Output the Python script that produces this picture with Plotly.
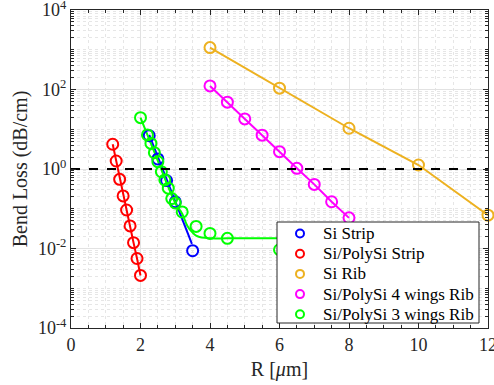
import plotly.graph_objects as go

# ---------------- data ----------------
si_strip_R = [2.25, 2.5, 2.75, 3.0, 3.5]
si_strip_L = [6.9, 1.79, 0.51, 0.15, 0.0088]
si_strip_fit_R = [2.25, 3.48]
si_strip_fit_L = [7.2, 0.013]

sipoly_strip_R = [1.2, 1.3, 1.4, 1.5, 1.6, 1.7, 1.8, 1.9, 2.0]
sipoly_strip_L = [4.2, 1.59, 0.55, 0.21, 0.093, 0.037, 0.014, 0.0056, 0.0021]

si_rib_R = [4, 6, 8, 10, 12]
si_rib_L = [1135, 108, 10.6, 1.26, 0.069]

wing4_R = [4.0, 4.5, 5.0, 5.5, 6.0, 6.5, 7.0, 7.5, 8.0]
wing4_L = [123, 48, 18.2, 7.1, 2.73, 1.04, 0.41, 0.15, 0.059]

wing3_R = [2.0, 2.2, 2.3, 2.4, 2.5, 2.6, 2.7, 2.8, 2.9, 3.0, 3.2, 3.6, 4.0, 4.5, 6.0]
wing3_L = [19.6, 7.2, 4.4, 2.57, 1.53, 0.855, 0.53, 0.33, 0.18, 0.14, 0.083, 0.036, 0.024, 0.018, 0.0093]
wing3_fit_R = [2.0, 2.5, 3.0, 3.2, 3.35, 3.5, 3.6, 3.7, 3.85, 4.0, 4.5, 5.0, 5.5, 6.0]
wing3_fit_L = [19.6, 1.6, 0.14, 0.075, 0.037, 0.025, 0.021, 0.0195, 0.0185, 0.018, 0.018, 0.018, 0.018, 0.018]

threshold_R = [0, 12]
threshold_L = [1, 1]

y_tickvals = [1e-4, 1e-2, 1, 1e2, 1e4]
y_ticktext = ["10<sup>-4</sup>", "10<sup>-2</sup>", "10<sup>0</sup>", "10<sup>2</sup>", "10<sup>4</sup>"]
x_tickvals = [0, 2, 4, 6, 8, 10, 12]

names = ["Si Strip", "Si/PolySi Strip", "Si Rib", "Si/PolySi 4 wings Rib", "Si/PolySi 3 wings Rib"]
colors = ["#0000FF", "#FF0000", "#EDB120", "#FF00FF", "#00FF00"]

# minor y tick positions (2..9 per decade plus odd decades)
y_minor = []
for d in range(-4, 4):
    for k in range(1, 10):
        v = k * 10 ** d
        if v not in y_tickvals:
            y_minor.append(v)

FONT = "Liberation Serif, Times New Roman, serif"

W, H = 494, 385
ML, MR, MT, MB = 71, 6, 10, 57
PW, PH = W - ML - MR, H - MT - MB


def px_x(p):
    return (p - ML) / PW


def px_y(p):
    return (H - MB - p) / PH


fig = go.Figure()

marker_sets = [
    (si_strip_R, si_strip_L),
    (sipoly_strip_R, sipoly_strip_L),
    (si_rib_R, si_rib_L),
    (wing4_R, wing4_L),
    (wing3_R, wing3_L),
]
line_sets = [
    (si_strip_fit_R, si_strip_fit_L),
    (sipoly_strip_R, sipoly_strip_L),
    (si_rib_R, si_rib_L),
    (wing4_R, wing4_L),
    (wing3_fit_R, wing3_fit_L),
]

for (xr, yl), c in zip(line_sets, colors):
    fig.add_trace(go.Scatter(x=xr, y=yl, mode="lines", line=dict(color=c, width=2),
                             showlegend=False, hoverinfo="skip",
                             line_shape="spline" if len(xr) > 9 else "linear"))

for (xr, yl), c, n in zip(marker_sets, colors, names):
    fig.add_trace(go.Scatter(x=xr, y=yl, mode="markers", name=n, showlegend=False,
                             cliponaxis=False,
                             marker=dict(symbol="circle-open", size=11, color=c,
                                         line=dict(width=2, color=c))))

fig.add_trace(go.Scatter(x=threshold_R, y=threshold_L, mode="lines",
                         line=dict(color="black", width=2, dash="dash"),
                         showlegend=False, hoverinfo="skip"))

# ---------------- manual legend ----------------
shapes = [dict(type="rect", xref="paper", yref="paper",
               x0=px_x(277), x1=px_x(479), y0=px_y(323), y1=px_y(222),
               fillcolor="white", line=dict(color="#262626", width=1), layer="above")]
annotations = []
row_y = [233.5, 253.7, 273.9, 294.1, 314.3]
for n, c, ry in zip(names, colors, row_y):
    shapes.append(dict(type="circle", xref="paper", yref="paper",
                       xsizemode="pixel", ysizemode="pixel",
                       xanchor=px_x(300), yanchor=px_y(ry),
                       x0=-4, x1=4, y0=-4, y1=4,
                       line=dict(color=c, width=2), fillcolor="rgba(0,0,0,0)", layer="above"))
    annotations.append(dict(text=n, xref="paper", yref="paper",
                            x=px_x(321), y=px_y(ry), xanchor="left", yanchor="middle",
                            showarrow=False,
                            font=dict(family=FONT, size=17, color="black")))

fig.update_layout(
    width=W, height=H,
    margin=dict(l=ML, r=MR, t=MT, b=MB, autoexpand=False),
    paper_bgcolor="white", plot_bgcolor="white",
    font=dict(family=FONT, size=18, color="#262626"),
    showlegend=False,
    shapes=shapes,
    annotations=annotations,
)

fig.update_xaxes(
    range=[0, 12], tickvals=x_tickvals, ticks="inside", ticklen=5,
    tickcolor="#262626", showline=True, linecolor="#262626", linewidth=1,
    mirror="ticks", showgrid=True, gridcolor="#e2e2e2", gridwidth=1, zeroline=False,
    tickfont=dict(family=FONT, size=18, color="#262626"), ticklabeloverflow="allow",
    automargin=False,
    title=dict(text="R [<i>μ</i>m]", font=dict(family=FONT, size=20, color="#262626"), standoff=8),
    minor=dict(dtick=0.5, ticks="inside", ticklen=3, tickcolor="#262626",
               showgrid=True, gridcolor="#e6e6e6", griddash="dot", gridwidth=1),
)
fig.update_yaxes(
    type="log", range=[-4, 4], tickvals=y_tickvals, ticktext=y_ticktext,
    ticks="inside", ticklen=5, tickcolor="#262626", showline=True,
    linecolor="#262626", linewidth=1, mirror="ticks", showgrid=True,
    gridcolor="#e2e2e2", gridwidth=1, zeroline=False,
    tickfont=dict(family=FONT, size=18, color="#262626"), ticklabeloverflow="allow",
    automargin=False,
    title=dict(text="Bend Loss (dB/cm)", font=dict(family=FONT, size=20, color="#262626"), standoff=4),
    minor=dict(tickvals=y_minor, ticks="inside", ticklen=3, tickcolor="#262626",
               showgrid=True, gridcolor="#e6e6e6", griddash="dot", gridwidth=1),
)

fig.write_html("out.html")
